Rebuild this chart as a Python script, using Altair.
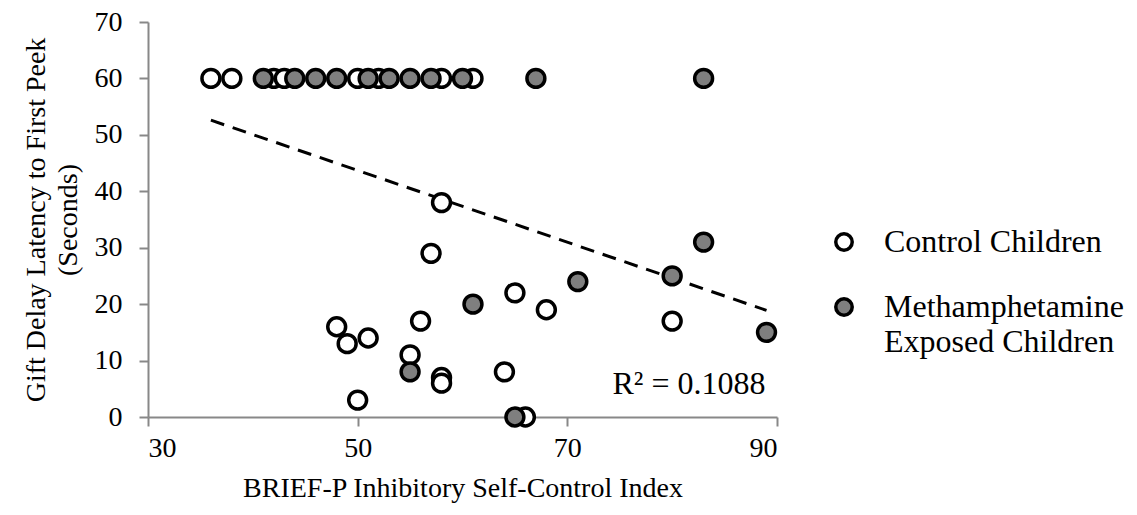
import altair as alt
import pandas as pd

# Control children (open circles)
ctrl_x = [36, 38, 42, 43, 50, 52, 58, 61, 58, 57, 65, 68, 56, 48, 49, 51, 55, 58, 58, 64, 50, 66, 80]
ctrl_y = [60, 60, 60, 60, 60, 60, 60, 60, 38, 29, 22, 19, 17, 16, 13, 14, 11, 7, 6, 8, 3, 0, 17]

# Methamphetamine exposed children (grey circles)
meth_x = [41, 44, 46, 48, 51, 53, 55, 57, 60, 67, 83, 61, 71, 55, 65, 83, 80, 89]
meth_y = [60, 60, 60, 60, 60, 60, 60, 60, 60, 60, 60, 20, 24, 8, 0, 31, 25, 15]

groups = ["Control Children", "Methamphetamine Exposed Children"]
fills = ["white", "#7f7f7f"]

# Linear trend line
trend_x = [36, 89]
trend_y = [52.6, 18.9]

r2_text = ["R\u00b2 = 0.1088"]
r2_x = [81.6]
r2_y = [5.9]

x_ticks = [30, 50, 70, 90]
y_ticks = [0, 10, 20, 30, 40, 50, 60, 70]

df = pd.DataFrame({
    "x": ctrl_x + meth_x,
    "y": ctrl_y + meth_y,
    "group": [groups[0]] * len(ctrl_x) + [groups[1]] * len(meth_x),
})
trend_df = pd.DataFrame({"x": trend_x, "y": trend_y})
r2_df = pd.DataFrame({"x": r2_x, "y": r2_y, "t": r2_text})

FONT = "Liberation Serif"
FS = 32
AFS = 28

xs = alt.Scale(domain=[30, 90], nice=False)
ys = alt.Scale(domain=[0, 70], nice=False)

points = alt.Chart(df).mark_point(
    filled=True, shape="circle", size=320, stroke="black", strokeWidth=3.5, opacity=1
).encode(
    x=alt.X("x:Q", scale=xs, axis=alt.Axis(values=x_ticks, title="BRIEF-P Inhibitory Self-Control Index",
                                           labelPadding=8, titlePadding=12)),
    y=alt.Y("y:Q", scale=ys, axis=alt.Axis(values=y_ticks,
                                           title=["Gift Delay Latency to First Peek", "(Seconds)"],
                                           labelPadding=17, titlePadding=12, titleLineHeight=32)),
    color=alt.Color("group:N", scale=alt.Scale(domain=groups, range=fills),
                    legend=alt.Legend(
                        title=None, orient="none", legendX=680, legendY=204,
                        symbolType="circle", symbolSize=270, symbolStrokeColor="black",
                        symbolStrokeWidth=3.5, symbolOpacity=1,
                        labelFont=FONT, labelFontSize=FS, labelColor="black",
                        labelOffset=24, labelLimit=0, rowPadding=33,
                        labelExpr="datum.label == 'Control Children' ? datum.label : ['Methamphetamine', 'Exposed Children']",
                    )),
)

trend = alt.Chart(trend_df).mark_line(
    color="black", strokeWidth=3, strokeDash=[14, 9]
).encode(x=alt.X("x:Q", scale=xs), y=alt.Y("y:Q", scale=ys))

r2 = alt.Chart(r2_df).mark_text(
    font=FONT, fontSize=FS, color="black", align="center", baseline="middle"
).encode(x=alt.X("x:Q", scale=xs), y=alt.Y("y:Q", scale=ys), text="t:N")

chart = alt.layer(trend, points, r2).properties(
    width=629, height=395,
    autosize=alt.AutoSizeParams(type="none"),
    padding={"left": 140, "top": 14, "right": 352, "bottom": 90},
).configure(
    style={"guide-label": {"lineHeight": 35}}
).configure_axis(
    labelFont=FONT, labelFontSize=AFS, labelColor="black",
    titleFont=FONT, titleFontSize=AFS, titleFontWeight="normal", titleColor="black",
    domainColor="#888888", domainWidth=2, tickColor="#888888", tickWidth=2, tickSize=9,
    grid=False,
).configure_view(stroke=None)

chart.save("out.html", embed_options={"renderer": "svg", "actions": False})
